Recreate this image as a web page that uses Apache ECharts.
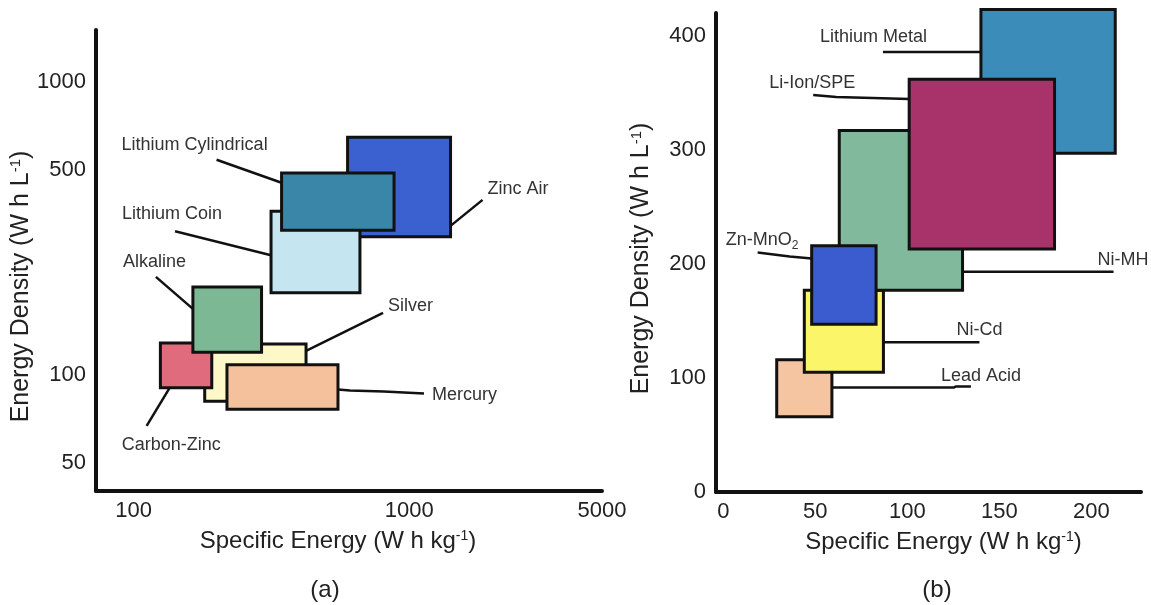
<!DOCTYPE html>
<html>
<head>
<meta charset="utf-8">
<script src="https://cdn.jsdelivr.net/npm/echarts@6/dist/echarts.min.js"></script>
<style>
html,body{margin:0;padding:0;background:#fff;}
#chart{width:1151px;height:605px;}
</style>
</head>
<body>
<div id="chart"></div>
<script>
// ---- Panel (a): primary batteries (log-log) ----
const A_NAMES = ['Silver', 'Mercury', 'Carbon-Zinc', 'Alkaline', 'Zinc Air', 'Lithium Coin', 'Lithium Cylindrical'];
const A_SPEC_MIN = [181, 218, 125, 164, 597, 315, 344];   // W h kg-1
const A_SPEC_MAX = [422, 551, 192, 291, 1411, 662, 880];
const A_DENS_MIN = [81, 76, 90, 119, 295, 190, 311];      // W h L-1
const A_DENS_MAX = [127, 108, 128, 199, 646, 361, 487];
const A_X_TICKS = [100, 1000, 5000];
const A_Y_TICKS = [50, 100, 500, 1000];

// ---- Panel (b): rechargeable batteries (linear) ----
const B_NAMES = ['Lead Acid', 'Ni-Cd', 'Ni-MH', 'Zn-MnO2', 'Lithium Metal', 'Li-Ion/SPE'];
const B_SPEC_MIN = [29, 44, 63, 48, 140, 101];
const B_SPEC_MAX = [59, 87, 130, 83, 213, 180];
const B_DENS_MIN = [66, 105, 177, 147, 297, 213];
const B_DENS_MAX = [116, 177, 317, 216, 423, 362];
const B_X_TICKS = [0, 50, 100, 150, 200];
const B_Y_TICKS = [0, 100, 200, 300, 400];

// ---- styles ----
const A_COLORS = ['#fcf8c8', '#f5c09c', '#e06b7c', '#7db894', '#3b60cf', '#c5e5f1', '#3a86a9'];
const B_COLORS = ['#f5c4a0', '#fbf56a', '#80b99c', '#3a5ccf', '#3b8cb9', '#a8336b'];

// annotation layout: anchor as fraction of box (x from left, y from top), pixel offsets
const A_NOTES = {
  'Silver': {anchor: [1, 0.12], line: [[0, 0], [77, -38]], text: [82, -45]},
  'Mercury': {anchor: [1, 0.556], line: [[0, 0], [12, 1], [46, 2], [86, 4]], text: [94, 6]},
  'Carbon-Zinc': {anchor: [0.18, 1], line: [[0, 0], [-23, 38]], text: [-48, 57]},
  'Alkaline': {anchor: [0, 0.335], line: [[0, 0], [-37, -32]], text: [-70, -47]},
  'Zinc Air': {anchor: [1, 0.89], line: [[0, 0], [32, -26]], text: [37, -37]},
  'Lithium Coin': {anchor: [0, 0.54], line: [[0, 0], [-96, -24]], text: [-149, -41]},
  'Lithium Cylindrical': {anchor: [0, 0.17], line: [[0, 0], [-65, -23]], text: [-160, -38]}
};
const B_NOTES = {
  'Lead Acid': {anchor: [1, 0.486], line: [[0, 0], [122, 0], [124, -1], [139, -1]], text: [109, -11]},
  'Ni-Cd': {anchor: [1, 0.636], line: [[0, 0], [96, 0]], text: [73, -12]},
  'Ni-MH': {anchor: [1, 0.885], line: [[0, 0], [151, 0]], text: [135, -12]},
  'Zn-MnO2': {anchor: [0, 0.162], line: [[0, 0], [-22, -2], [-54, -6]], text: [-86, -18], rich: 'Zn-MnO{sub|2}'},
  'Lithium Metal': {anchor: [0, 0.296], line: [[0, 0], [-98, 0]], text: [-161, -15]},
  'Li-Ion/SPE': {anchor: [0, 0.117], line: [[0, 0], [-73, -2], [-96, -4]], text: [-140, -16]}
};

const FONT = "'Liberation Sans', Arial, sans-serif";

function makeRender(names, colors, notes) {
  return function (params, api) {
    const i = params.dataIndex;
    const p0 = api.coord([api.value(0), api.value(3)]);
    const p1 = api.coord([api.value(1), api.value(2)]);
    const x = p0[0], y = p0[1], w = p1[0] - p0[0], h = p1[1] - p0[1];
    const note = notes[names[i]];
    const ax = x + note.anchor[0] * w, ay = y + note.anchor[1] * h;
    const pts = note.line.map(p => [ax + p[0], ay + p[1]]);
    const txt = note.rich || names[i];
    return {
      type: 'group',
      children: [
        {type: 'polyline', shape: {points: pts}, style: {stroke: '#111', lineWidth: 2.5, fill: null}},
        {type: 'rect', shape: {x: x, y: y, width: w, height: h},
         style: {fill: colors[i], stroke: '#111', lineWidth: 3}},
        {type: 'text', x: ax + note.text[0], y: ay + note.text[1],
         style: {text: txt, fill: '#333', fontSize: 18, fontFamily: FONT,
                 align: 'left', verticalAlign: 'middle',
                 rich: {sub: {fontSize: 12, fontFamily: FONT, fill: '#333', padding: [10, 0, 0, 0]}}}}
      ]
    };
  };
}

const aData = A_NAMES.map((n, i) => [A_SPEC_MIN[i], A_SPEC_MAX[i], A_DENS_MIN[i], A_DENS_MAX[i]]);
const bData = B_NAMES.map((n, i) => [B_SPEC_MIN[i], B_SPEC_MAX[i], B_DENS_MIN[i], B_DENS_MAX[i]]);

const plain = v => String(Math.round(v));
const axisLineStyle = {show: true, onZero: false, lineStyle: {color: '#111', width: 4}};
const tickLabel = {color: '#222', fontSize: 22, fontFamily: FONT, formatter: plain};
const nameStyle = {color: '#222', fontSize: 24, fontFamily: FONT,
  rich: {sup: {fontSize: 14, fontFamily: FONT, color: '#222', padding: [0, 0, 10, 0]}}};
const yNameStyle = {color: '#222', fontSize: 25, fontFamily: FONT,
  rich: {sup: {fontSize: 15, fontFamily: FONT, color: '#222', padding: [0, 0, 10, 0]}}};

const option = {
  animation: false,
  backgroundColor: '#fff',
  grid: [
    {left: 96, top: 30, width: 506, height: 461},
    {left: 716, top: 13, width: 425, height: 479}
  ],
  xAxis: [
    {gridIndex: 0, type: 'log', logBase: 10, min: 73, max: 5000,
     axisLine: axisLineStyle, axisTick: {show: false}, splitLine: {show: false},
     axisLabel: Object.assign({margin: 9, customValues: A_X_TICKS, showMaxLabel: true, showMinLabel: true}, tickLabel),
     name: 'Specific Energy (W h kg{sup|-1})', nameLocation: 'middle', nameGap: 38,
     nameTextStyle: Object.assign({padding: [0, 22, 0, 0]}, nameStyle)},
    {gridIndex: 1, type: 'value', min: -4, max: 227,
     axisLine: axisLineStyle, axisTick: {show: false}, splitLine: {show: false},
     axisLabel: Object.assign({margin: 9, customValues: B_X_TICKS}, tickLabel),
     name: 'Specific Energy (W h kg{sup|-1})', nameLocation: 'middle', nameGap: 38,
     nameTextStyle: Object.assign({padding: [0, 0, 0, 30]}, nameStyle)}
  ],
  yAxis: [
    {gridIndex: 0, type: 'log', logBase: 10, min: 40, max: 1500,
     axisLine: axisLineStyle, axisTick: {show: false}, splitLine: {show: false},
     axisLabel: Object.assign({margin: 10, customValues: A_Y_TICKS}, tickLabel),
     name: 'Energy Density (W h L{sup|-1})', nameLocation: 'middle', nameGap: 58, nameRotate: 90,
     nameTextStyle: Object.assign({padding: [0, 52, 0, 0]}, yNameStyle)},
    {gridIndex: 1, type: 'value', min: 0, max: 420,
     axisLine: axisLineStyle, axisTick: {show: false}, splitLine: {show: false},
     axisLabel: Object.assign({margin: 10, customValues: B_Y_TICKS}, tickLabel),
     name: 'Energy Density (W h L{sup|-1})', nameLocation: 'middle', nameGap: 62, nameRotate: 90,
     nameTextStyle: Object.assign({padding: [0, 12, 0, 0]}, yNameStyle)}
  ],
  series: [
    {type: 'custom', xAxisIndex: 0, yAxisIndex: 0, renderItem: makeRender(A_NAMES, A_COLORS, A_NOTES),
     encode: {x: [0, 1], y: [2, 3]}, data: aData, clip: false, silent: true},
    {type: 'custom', xAxisIndex: 1, yAxisIndex: 1, renderItem: makeRender(B_NAMES, B_COLORS, B_NOTES),
     encode: {x: [0, 1], y: [2, 3]}, data: bData, clip: false, silent: true}
  ],
  graphic: [
    {type: 'text', x: 325, y: 590, style: {text: '(a)', fontSize: 24, fontFamily: FONT, fill: '#222', align: 'center', verticalAlign: 'middle'}},
    {type: 'text', x: 937, y: 590, style: {text: '(b)', fontSize: 24, fontFamily: FONT, fill: '#222', align: 'center', verticalAlign: 'middle'}}
  ]
};

const chart = echarts.init(document.getElementById('chart'), null, {renderer: 'canvas'});
chart.setOption(option);
</script>
</body>
</html>
